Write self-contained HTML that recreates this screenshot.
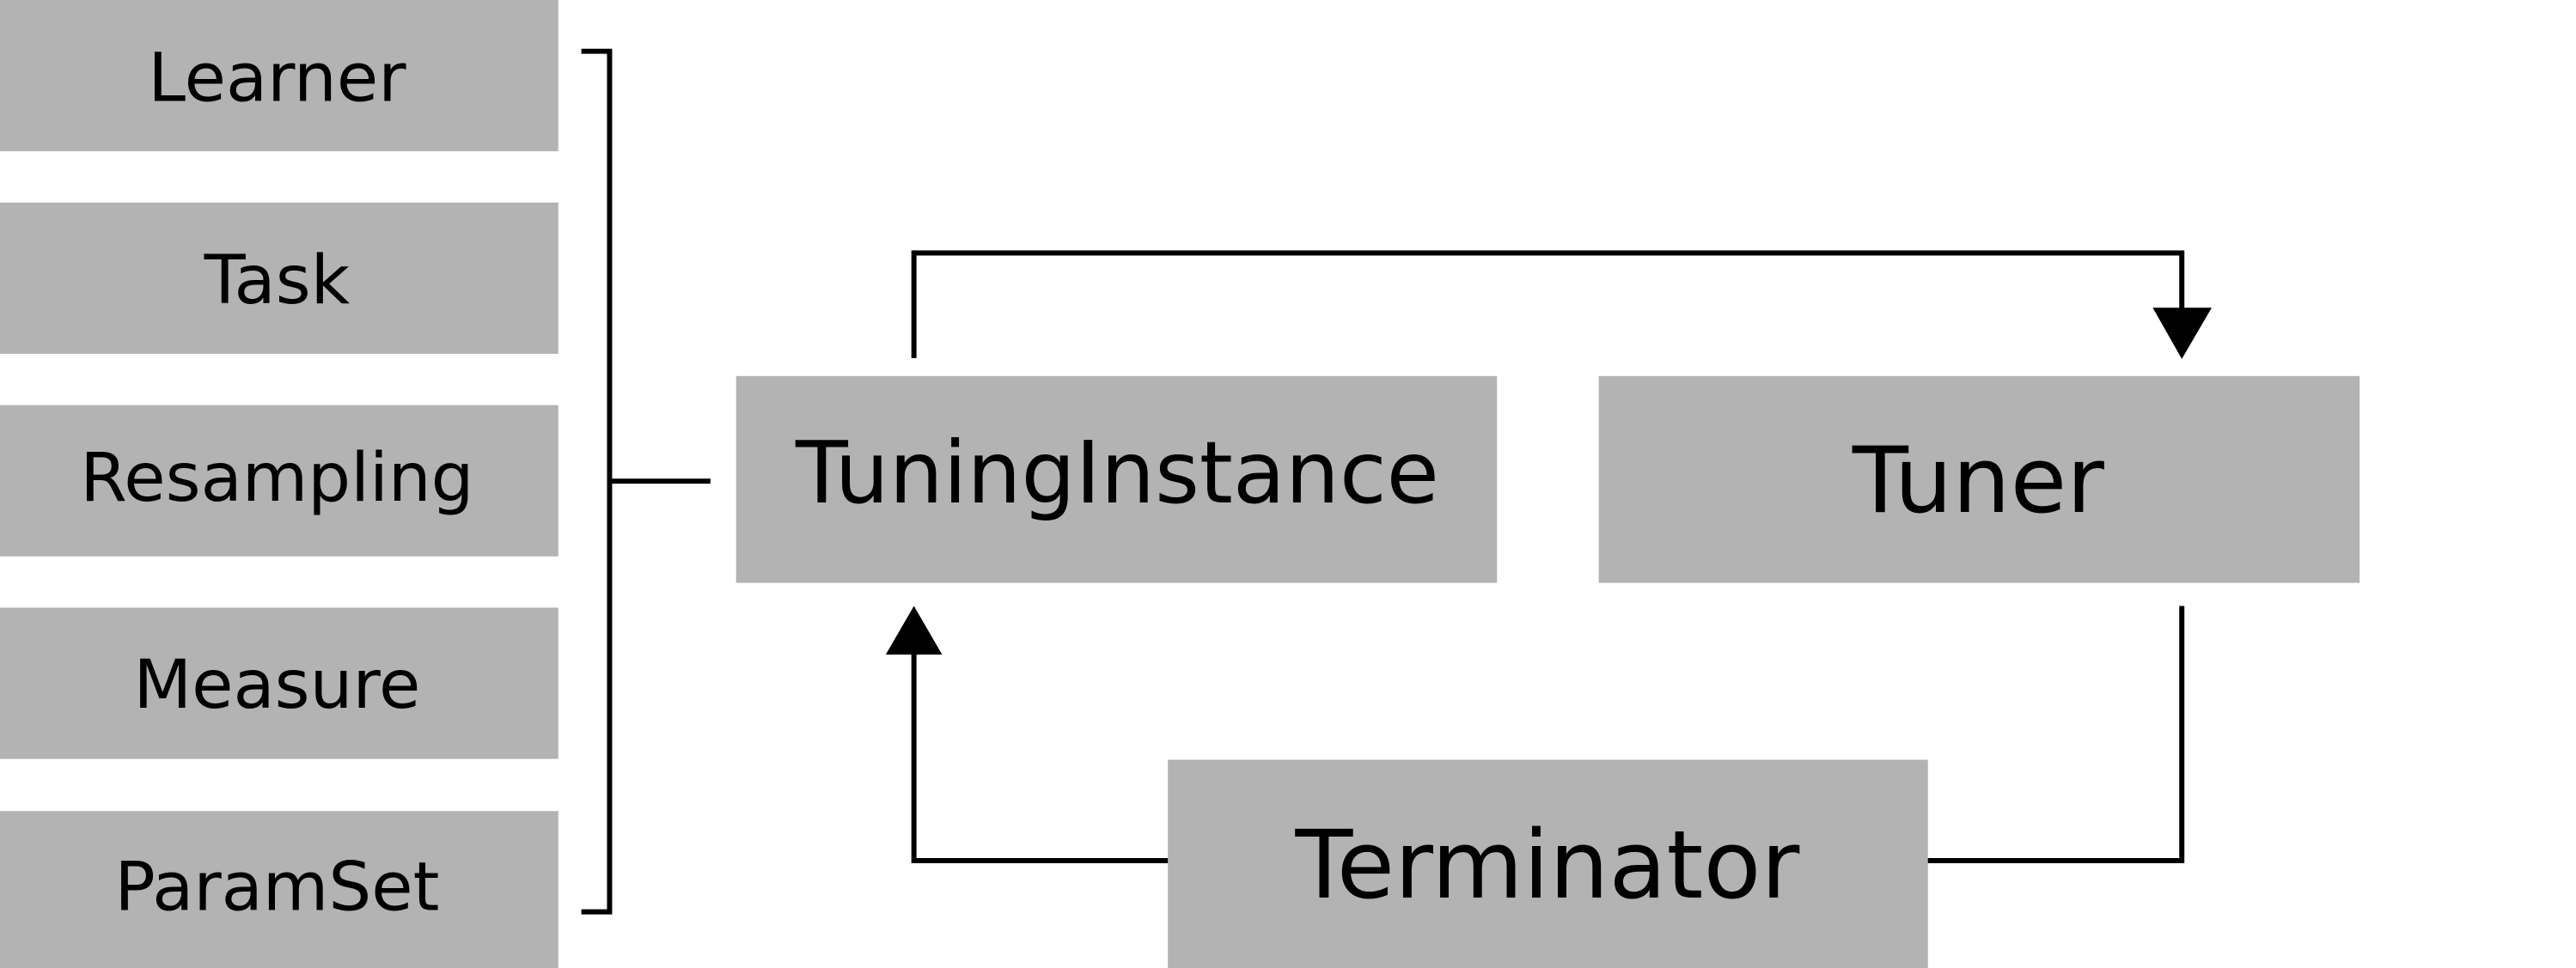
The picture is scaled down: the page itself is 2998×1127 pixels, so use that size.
<!DOCTYPE html>
<html><head><meta charset="utf-8"><style>
html,body{margin:0;padding:0;background:#fff;width:2998px;height:1127px;overflow:hidden}
text{font-family:"DejaVu Sans","Liberation Sans",sans-serif;fill:#000}
</style></head><body>
<svg width="2998" height="1127" viewBox="0 0 2998 1127" xmlns="http://www.w3.org/2000/svg">
<g transform="scale(0.995)">
<g fill="#b3b3b3">
<rect x="0" y="0" width="653" height="177"/>
<rect x="0" y="237" width="653" height="177"/>
<rect x="0" y="474" width="653" height="177"/>
<rect x="0" y="711" width="653" height="177"/>
<rect x="0" y="949" width="653" height="190"/>
<rect x="861" y="440" width="890" height="242"/>
<rect x="1870" y="440" width="890" height="242"/>
<rect x="1366" y="889" width="889" height="250"/>
</g>
<g font-size="79" text-anchor="middle">
<text x="324" y="118">Learner</text>
<text x="324" y="355">Task</text>
<text x="324" y="586">Resampling</text>
<text x="324" y="828">Measure</text>
<text x="324" y="1065">ParamSet</text>
</g>
<text x="1307" y="588" font-size="100" text-anchor="middle">TuningInstance</text>
<text x="2314" y="599" font-size="107" text-anchor="middle">Tuner</text>
<text x="1810" y="1050" font-size="110" text-anchor="middle">Terminator</text>
<g fill="none" stroke="#000" stroke-width="6">
<polyline points="680,60 713,60 713,1067 680,1067"/>
<line x1="713" y1="563" x2="831" y2="563"/>
<polyline points="1069,419 1069,296 2552,296 2552,365"/>
<polyline points="1366,1007 1069,1007 1069,760"/>
<polyline points="2255,1007 2552,1007 2552,709"/>
</g>
<g fill="#000">
<polygon points="2518,360 2587,360 2552,420"/>
<polygon points="1036,766 1102,766 1069,709"/>
</g>
</g>
</svg>
</body></html>
